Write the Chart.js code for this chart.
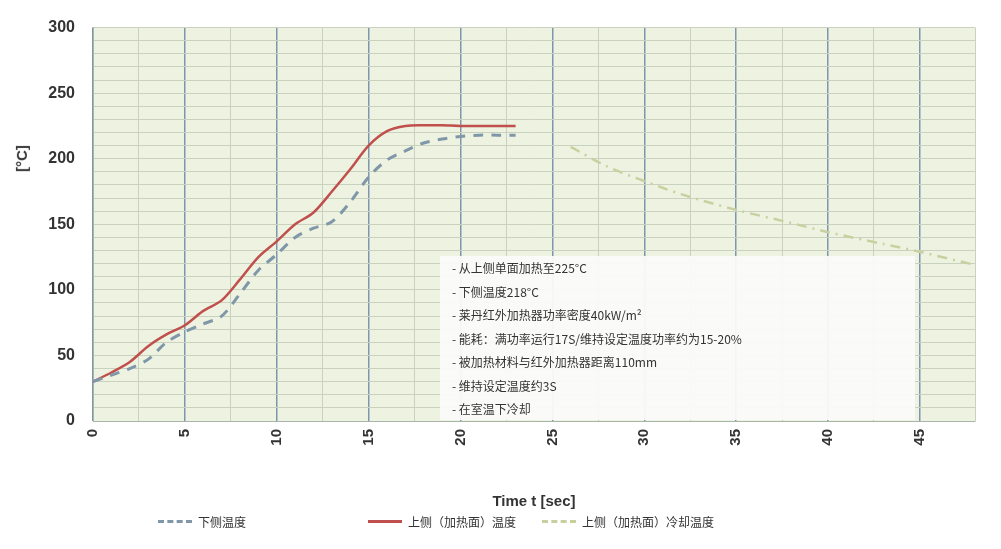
<!DOCTYPE html>
<html>
<head>
<meta charset="utf-8">
<script src="https://cdn.jsdelivr.net/npm/chart.js@4"></script>
<style>
  body { margin: 0; background: #fff; font-family: "Noto Sans CJK SC", "Noto Sans", sans-serif; }
  #wrap { position: relative; width: 1001px; height: 549px; }
  .note { position: absolute; left: 440px; top: 256px; width: 475px; height: 164px;
          background: rgba(250,250,250,0.95); font-size: 12px; color: #333; }
  .note div { height: 23.5px; line-height: 23.5px; padding-left: 12px; }
  .legend { position: absolute; top: 513px; font-size: 12px; color: #333; display: flex; align-items: center; }
  .legend span.s { display: inline-block; width: 34px; margin-right: 6px; border-top: 3px solid; }
  .ytitle { position: absolute; left: 8px; top: 150px; transform: rotate(-90deg); font: bold 15px "Liberation Sans", sans-serif; color: #333; }
</style>
</head>
<body>
<div id="wrap">
  <canvas id="tempChart" width="1001" height="549"></canvas>
  <div class="ytitle">[°C]</div>
  <div class="note">
    <div>- 从上侧单面加热至225°C</div>
    <div>- 下侧温度218°C</div>
    <div>- 莱丹红外加热器功率密度40kW/m²</div>
    <div>- 能耗：满功率运行17S/维持设定温度功率约为15-20%</div>
    <div>- 被加热材料与红外加热器距离110mm</div>
    <div>- 维持设定温度约3S</div>
    <div>- 在室温下冷却</div>
  </div>
  <div class="legend" style="left:158px"><span class="s" style="border-top:3px dashed #7f97a8"></span>下侧温度</div>
  <div class="legend" style="left:368px"><span class="s" style="border-color:#c0504d"></span>上侧（加热面）温度</div>
  <div class="legend" style="left:542px"><span class="s" style="border-top:3px dashed #c8d0a0"></span>上侧（加热面）冷却温度</div>
</div>
<script>
// Values
const heatTimes = [0, 1, 2, 3, 4, 5, 6, 7, 8, 9, 10, 11, 12, 13, 14, 15, 16, 17, 18, 19, 20, 21, 22, 23];
const upperTemp = [30, 37, 45, 57, 66, 73, 84, 92, 108, 125, 137, 150, 159, 175, 192, 210, 221, 225, 225.5, 225.5, 225, 225, 225, 225];
const lowerTemp = [30, 35, 40, 47, 60, 68, 74, 80, 97, 115, 127, 140, 147, 152, 167, 186, 199, 206, 212, 215, 217, 218, 218, 218];
const coolTimes = [26, 28, 30, 32, 35, 38, 40, 43, 45, 48];
const coolTemp = [209, 194, 183, 173, 161, 151, 144, 135, 129, 119];

function pts(xs, ys) {
    return xs.map((x, i) => ({ x: x, y: ys[i] }));
}

const ctx = document.getElementById('tempChart');
new Chart(ctx, {
    type: 'line',
    data: {
        datasets: [
            { label: '下侧温度', data: pts(heatTimes, lowerTemp), borderColor: '#7f97a8', borderDash: [10, 8], borderWidth: 3, pointRadius: 0, tension: 0.3 },
            { label: '上侧（加热面）温度', data: pts(heatTimes, upperTemp), borderColor: '#c0504d', borderWidth: 2.5, pointRadius: 0, tension: 0.3 },
            { label: '上侧（加热面）冷却温度', data: pts(coolTimes, coolTemp), borderColor: '#c8d0a0', borderDash: [10, 6, 2, 6], borderWidth: 2.5, pointRadius: 0, tension: 0.3 }
        ]
    },
    options: {
        responsive: false,
        animation: false,
        layout: { padding: { top: 18, right: 0 } },
        plugins: { legend: { display: false }, tooltip: { enabled: false } },
        scales: {
            x: {
                type: 'linear', min: 0, max: 48,
                afterFit: s => { s.height = 128; },
                ticks: {
                    stepSize: 2.5, maxRotation: 90, minRotation: 90, autoSkip: false, padding: 8,
                    color: '#333', font: { size: 15, weight: 'bold' },
                    callback: v => (v % 5 === 0 ? v : '')
                },
                grid: {
                    drawTicks: false,
                    color: c => (c.tick && c.tick.value % 5 === 0 ? '#7f96b0' : '#c8d2bf'),
                    lineWidth: c => (c.tick && c.tick.value % 5 === 0 ? 1.5 : 1)
                },
                border: { color: '#aab5aa' },
                title: { display: true, text: 'Time t [sec]', color: '#333', font: { size: 15, weight: 'bold' }, padding: { top: 0, bottom: 38 } }
            },
            y: {
                min: 0, max: 300,
                afterFit: s => { s.width = 93; },
                ticks: {
                    stepSize: 10, autoSkip: false, padding: 18,
                    color: '#333', font: { size: 16, weight: 'bold' },
                    callback: v => (v % 50 === 0 ? v : '')
                },
                grid: { color: '#c8d2bf', drawTicks: false },
                border: { color: '#aab5aa' }
            }
        }
    },
    plugins: [{
        id: 'bg',
        beforeDraw(chart) {
            const a = chart.chartArea;
            chart.ctx.save();
            chart.ctx.fillStyle = '#eef3e1';
            chart.ctx.fillRect(a.left, a.top, a.right - a.left, a.bottom - a.top);
            chart.ctx.restore();
        }
    }]
});
</script>
</body>
</html>
